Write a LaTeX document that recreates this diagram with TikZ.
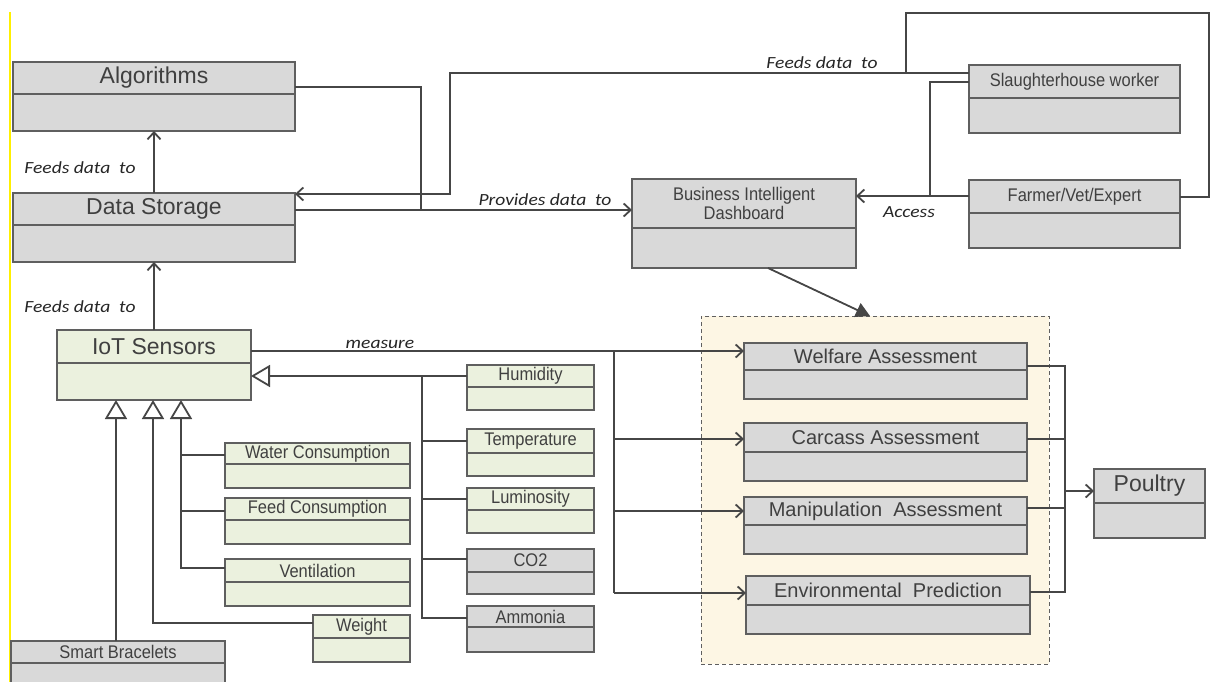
\documentclass[tikz,border=0pt]{standalone}
\usepackage{fontspec}
\setmainfont{Liberation Sans}
\newfontfamily\narrowfont[FakeStretch=0.9]{Liberation Sans}
\newfontfamily\labfont[FakeStretch=1.15]{Carlito}
\usetikzlibrary{arrows.meta,calc}

\definecolor{boxgray}{RGB}{217,217,217}
\definecolor{boxgreen}{RGB}{235,241,222}
\definecolor{edge}{RGB}{95,95,95}
\definecolor{ink}{RGB}{64,64,64}
\definecolor{wire}{RGB}{70,70,70}
\definecolor{cream}{RGB}{253,246,228}
\definecolor{marker}{RGB}{255,240,0}

\tikzset{
  box/.style={draw=edge, line width=1.3pt, inner sep=0pt, outer sep=0pt, anchor=north west},
  graybox/.style={box, fill=boxgray},
  greenbox/.style={box, fill=boxgreen},
  conn/.style={draw=wire, line width=1.8pt},
  barb/.style={-{Straight Barb[length=7pt,width=13pt]}},
  gen/.style={-{Triangle[fill=white,length=19pt,width=22pt]}},
  solidtip/.style={-{Triangle[length=14pt,width=15pt]}},
  lbl/.style={font=\labfont\itshape\fontsize{17}{20}\selectfont, text=black!85, inner sep=0pt},
}

% box with a header compartment: name, style, x, y, width, height, header height, text
\newcommand\umlbox[8]{%
  \node[#2, minimum width=#5pt, minimum height=#6pt] (#1) at (#3,#4) {};
  \draw[draw=edge, line width=1.3pt] ([yshift=-#7pt]#1.north west) -- ([yshift=-#7pt]#1.north east);
  \node[text=ink, inner sep=0pt, align=center] (#1-t) at ([yshift={-#7pt/2}]#1.north) {#8};
}
\newcommand\fbig{\fontsize{23}{27}\selectfont}
\newcommand\fmed{\fontsize{20}{24}\selectfont}
\newcommand\fsml{\narrowfont\fontsize{18.3}{21}\selectfont}

\begin{document}
\begin{tikzpicture}[x=1pt,y=-1pt]
\useasboundingbox (0,0) rectangle (1215,682);
\clip (0,0) rectangle (1215,682);
\fill[white] (0,0) rectangle (1215,682);
\draw[marker, line width=1.5pt] (10,12) -- (10,682);

% assessment group
\node[draw=edge, dash pattern=on 4pt off 3pt, line width=1pt, fill=cream,
      minimum width=348pt, minimum height=348pt, inner sep=0pt, outer sep=0pt,
      anchor=north west] (grp) at (701,316) {};

% upper boxes
\umlbox{alg}{graybox}{13}{62}{282}{69}{32}{\fbig Algorithms}
\umlbox{ds}{graybox}{13}{193}{282}{69}{32}{\fbig Data Storage}
\umlbox{bi}{graybox}{632}{179}{224}{89}{49}{\fsml Business Intelligent\\[1pt]\fsml Dashboard}
\umlbox{slw}{graybox}{969}{65}{211}{68}{33}{\fsml Slaughterhouse worker}
\umlbox{fve}{graybox}{969}{180}{211}{68}{33}{\fsml Farmer/Vet/Expert}

% sensors
\umlbox{iot}{greenbox}{57}{330}{194}{70}{33}{\fbig IoT Sensors}
\umlbox{hum}{greenbox}{467}{365}{127}{45}{22}{\fsml Humidity}
\umlbox{temp}{greenbox}{467}{429}{127}{47}{24}{\fsml Temperature}
\umlbox{lum}{greenbox}{467}{488}{127}{45}{22}{\fsml Luminosity}
\umlbox{co2}{graybox}{467}{549}{127}{45}{23}{\fsml CO2}
\umlbox{amm}{graybox}{467}{606}{127}{46}{21}{\fsml Ammonia}
\umlbox{water}{greenbox}{225}{443}{185}{45}{21}{\fsml Water Consumption}
\umlbox{feed}{greenbox}{225}{498}{185}{46}{22}{\fsml Feed Consumption}
\umlbox{vent}{greenbox}{225}{559}{185}{47}{23}{\fsml Ventilation}
\umlbox{weight}{greenbox}{313}{615}{97}{47}{23}{\fsml Weight}
\umlbox{smart}{graybox}{11}{641}{214}{60}{22}{\fsml Smart Bracelets}

% assessments and target
\umlbox{welf}{graybox}{744}{343}{283}{56}{27}{\fmed Welfare Assessment}
\umlbox{carc}{graybox}{744}{423}{283}{58}{29}{\fmed Carcass Assessment}
\umlbox{manip}{graybox}{744}{497}{283}{57}{28}{\fmed Manipulation~ Assessment}
\umlbox{env}{graybox}{746}{576}{284}{58}{29}{\fmed Environmental~ Prediction}
\umlbox{poul}{graybox}{1094}{469}{111}{69}{34}{\fbig Poultry}

% data flow between storage, algorithms and dashboard
\draw[conn, barb] (ds.north) -- (alg.south);
\draw[conn, barb] (iot.north) -- (ds.south);
\draw[conn, barb] ([yshift=-17pt]ds.north east) -- ([yshift=-31pt]bi.north west);
\draw[conn] ([yshift=-25pt]alg.north east) -| (421,210);
\draw[conn, barb] ([yshift=-8pt]slw.north west) -| (450,194) -- ([yshift=-1pt]ds.north east);
\coordinate (loopend) at (906,73);
\draw[conn] ([yshift=-17pt]fve.north east) -- (1209,197) -- (1209,13) -- (906,13) -- (loopend);
\draw[conn, barb] ([yshift=-16pt]fve.north west) -- ([yshift=-17pt]bi.north east);
\draw[conn] ([yshift=-17pt]slw.north west) -| (930,196);
\draw[conn, solidtip] ([xshift=24pt]bi.south) -- ([xshift=-5pt]grp.north);

\node[lbl] (l1) at (80,168) {Feeds data~ to};
\node[lbl] (l2) at (80,307) {Feeds data~ to};
\node[lbl] (l3) at (822,63) {Feeds data~ to};
\node[lbl] (l4) at (545,200) {Provides data~ to};
\node[lbl] (l5) at (909,212) {Access};
\node[lbl] (l6) at (380,344) {measure};

% measure bus
\coordinate (mbus) at (614,351);
\draw[conn, barb] ([yshift=-21pt]iot.north east) -- ([yshift=-8pt]welf.north west);
\draw[conn] (mbus) -- (614,593);
\draw[conn, barb] (614,439) -- ([yshift=-16pt]carc.north west);
\draw[conn, barb] (614,511) -- ([yshift=-14pt]manip.north west);
\draw[conn, barb] (614,593) -- ([yshift=-17pt]env.north west);

% assessments to poultry
\draw[conn] ([yshift=-23pt]welf.north east) -| (1065,592) -- ([yshift=-16pt]env.north east);
\draw[conn] ([yshift=-16pt]carc.north east) -- (1065,439);
\draw[conn] ([yshift=-11pt]manip.north east) -- (1065,508);
\draw[conn, barb] (1065,491) -- ([yshift=-22pt]poul.north west);

% sensor generalisations
\draw[conn, gen] ([yshift=-11pt]hum.north west) -- ([yshift=-46pt]iot.north east);
\draw[conn] (422,376) -- (422,618) -- ([yshift=-12pt]amm.north west);
\draw[conn] (422,441) -- ([yshift=-12pt]temp.north west);
\draw[conn] (422,499) -- ([yshift=-11pt]lum.north west);
\draw[conn] (422,559) -- ([yshift=-10pt]co2.north west);

\draw[conn, gen] ([yshift=-9pt]vent.north west) -| ([xshift=27pt]iot.south);
\draw[conn] (181,455) -- ([yshift=-12pt]water.north west);
\draw[conn] (181,511) -- ([yshift=-13pt]feed.north west);
\draw[conn, gen] ([yshift=-8pt]weight.north west) -| ([xshift=-1pt]iot.south);
\draw[conn, gen] ([xshift=-2pt]smart.north) -- ([xshift=-38pt]iot.south);
\end{tikzpicture}
\end{document}
